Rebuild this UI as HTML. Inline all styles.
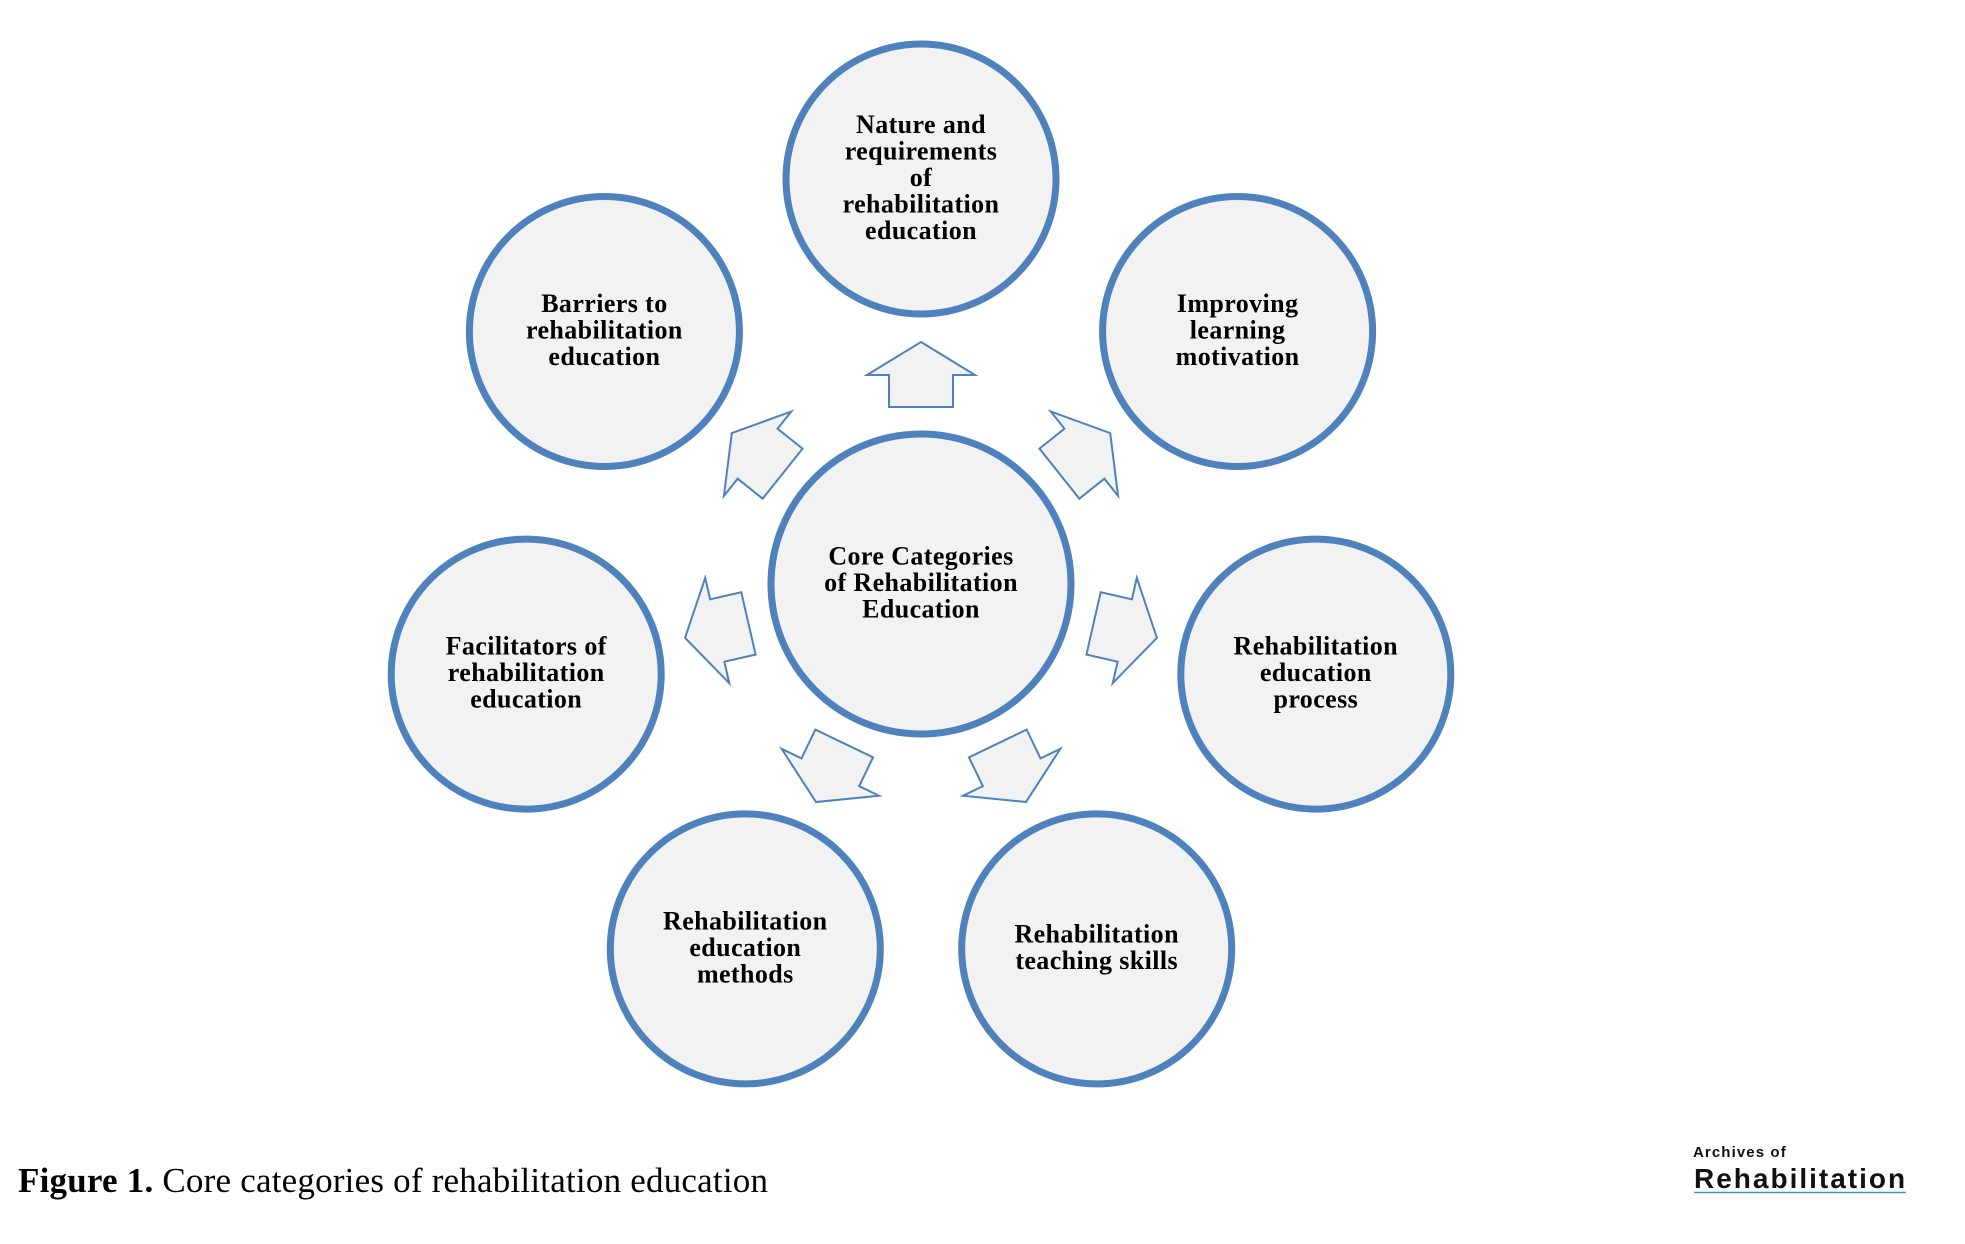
<!DOCTYPE html>
<html>
<head>
<meta charset="utf-8">
<style>
  html,body{margin:0;padding:0;background:#ffffff;}
  body{width:1965px;height:1244px;overflow:hidden;}
  svg{display:block;}
  .lbl{font-family:"Liberation Serif",serif;font-weight:bold;font-size:26px;letter-spacing:0.4px;fill:#000;}
</style>
</head>
<body>
<svg width="1965" height="1244" viewBox="0 0 1965 1244" xmlns="http://www.w3.org/2000/svg">
  <rect x="0" y="0" width="1965" height="1244" fill="#ffffff"/>

  <!-- Circles -->
  <g fill="#f2f2f2" stroke="#4f81bd" stroke-width="7">
    <circle cx="921" cy="179" r="135"/>
    <circle cx="1237.6" cy="331.5" r="135"/>
    <circle cx="1315.8" cy="674.1" r="135"/>
    <circle cx="1096.7" cy="948.9" r="135"/>
    <circle cx="745.3" cy="948.9" r="135"/>
    <circle cx="526.2" cy="674.1" r="135"/>
    <circle cx="604.4" cy="331.5" r="135"/>
    <circle cx="921" cy="584" r="150"/>
  </g>

  <!-- Arrows -->
  <g fill="#f2f2f2" stroke="#4f81bd" stroke-width="2" stroke-linejoin="miter">
    <polygon points="921,342 975,375 953,375 953,407 889,407 889,375 867,375" transform="rotate(0 921 584)"/>
    <polygon points="921,342 975,375 953,375 953,407 889,407 889,375 867,375" transform="rotate(51.4286 921 584)"/>
    <polygon points="921,342 975,375 953,375 953,407 889,407 889,375 867,375" transform="rotate(102.857 921 584)"/>
    <polygon points="921,342 975,375 953,375 953,407 889,407 889,375 867,375" transform="rotate(154.286 921 584)"/>
    <polygon points="921,342 975,375 953,375 953,407 889,407 889,375 867,375" transform="rotate(205.714 921 584)"/>
    <polygon points="921,342 975,375 953,375 953,407 889,407 889,375 867,375" transform="rotate(257.143 921 584)"/>
    <polygon points="921,342 975,375 953,375 953,407 889,407 889,375 867,375" transform="rotate(308.571 921 584)"/>
  </g>

  <!-- Labels -->
  <g class="lbl" text-anchor="middle">
    <text x="921" y="133">Nature and</text>
    <text x="921" y="159.5">requirements</text>
    <text x="921" y="186">of</text>
    <text x="921" y="212.5">rehabilitation</text>
    <text x="921" y="239">education</text>

    <text x="1237.6" y="312">Improving</text>
    <text x="1237.6" y="338.5">learning</text>
    <text x="1237.6" y="365">motivation</text>

    <text x="1315.8" y="654.6">Rehabilitation</text>
    <text x="1315.8" y="681.1">education</text>
    <text x="1315.8" y="707.6">process</text>

    <text x="1096.7" y="942.6">Rehabilitation</text>
    <text x="1096.7" y="969.1">teaching skills</text>

    <text x="745.3" y="929.4">Rehabilitation</text>
    <text x="745.3" y="955.9">education</text>
    <text x="745.3" y="982.4">methods</text>

    <text x="526.2" y="654.6">Facilitators of</text>
    <text x="526.2" y="681.1">rehabilitation</text>
    <text x="526.2" y="707.6">education</text>

    <text x="604.4" y="312">Barriers to</text>
    <text x="604.4" y="338.5">rehabilitation</text>
    <text x="604.4" y="365">education</text>

    <text x="921" y="564.5">Core Categories</text>
    <text x="921" y="591">of Rehabilitation</text>
    <text x="921" y="617.5">Education</text>
  </g>

  <!-- Caption -->
  <text x="18" y="1192" font-family="'Liberation Serif',serif" font-size="35" fill="#000" textLength="750" lengthAdjust="spacing"><tspan font-weight="bold">Figure 1.</tspan> Core categories of rehabilitation education</text>

  <!-- Logo -->
  <text x="1693" y="1157" font-family="'Liberation Sans',sans-serif" font-weight="bold" font-size="15" letter-spacing="1.1" fill="#111">Archives of</text>
  <text x="1694" y="1188" font-family="'Liberation Sans',sans-serif" font-weight="bold" font-size="28" letter-spacing="2" fill="#111">Rehabilitation</text>
  <line x1="1694" y1="1192.5" x2="1906" y2="1192.5" stroke="#3d93c6" stroke-width="1.5"/>
</svg>
</body>
</html>
